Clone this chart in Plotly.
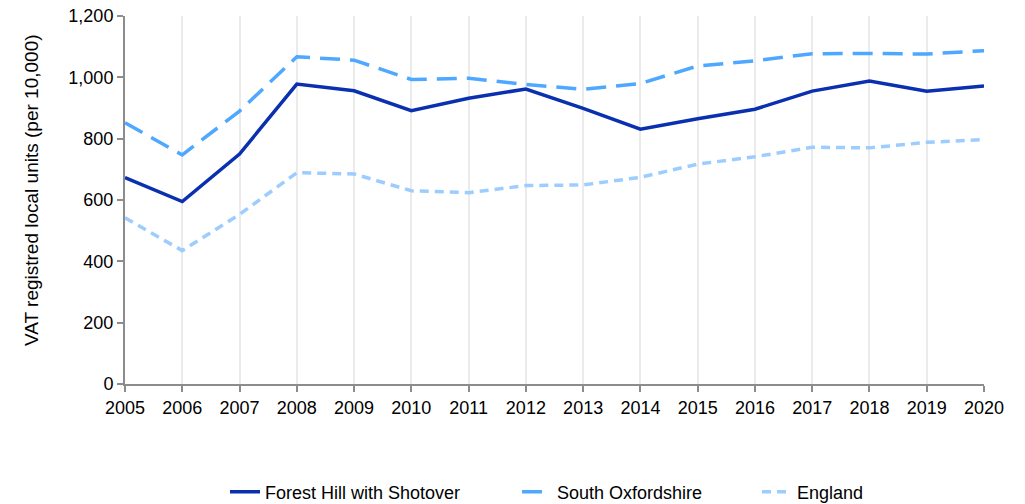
import plotly.graph_objects as go

years = list(range(2005, 2021))
forest_hill = [673, 595, 750, 978, 956, 891, 932, 962, 899, 831, 865, 896, 955, 988, 955, 972]
south_oxon = [852, 747, 890, 1067, 1056, 993, 997, 977, 961, 980, 1037, 1054, 1077, 1078, 1076, 1087]
england = [542, 435, 553, 689, 685, 630, 624, 647, 649, 674, 717, 741, 772, 770, 788, 797]
y_title = "VAT registred local units (per 10,000)"

fig = go.Figure()
fig.add_trace(go.Scatter(x=years, y=forest_hill, mode="lines", name="Forest Hill with Shotover",
                         line=dict(color="#0a30b0", width=3.5), legend="legend"))
fig.add_trace(go.Scatter(x=years, y=south_oxon, mode="lines", name="South Oxfordshire",
                         line=dict(color="#4ea8ff", width=3.5, dash="20px,10px"), legend="legend2"))
fig.add_trace(go.Scatter(x=years, y=england, mode="lines", name="England",
                         line=dict(color="#9dcdff", width=3.5, dash="9px,6px"), legend="legend3"))

W, H = 1025, 504
L, R, T, B = 125, 41, 16, 120
def leg(xpx):
    return dict(orientation="h", xref="container", x=xpx / W, xanchor="left",
                yref="container", y=(H - 492) / H, yanchor="middle",
                font=dict(size=18), bgcolor="rgba(0,0,0,0)")

pw, ph = W - L - R, H - T - B
fig.add_annotation(text=y_title, textangle=-90, showarrow=False,
                   xref="paper", yref="paper",
                   x=(31.5 - L) / pw, y=(H - B - 190.5) / ph,
                   xanchor="center", yanchor="middle",
                   font=dict(size=19, color="#000000"))

fig.update_layout(
    width=W, height=H,
    margin=dict(l=L, r=R, t=T, b=B, autoexpand=False),
    plot_bgcolor="white", paper_bgcolor="white",
    font=dict(family="Liberation Sans, Arial, sans-serif", size=18, color="#000000"),
    showlegend=True,
    legend=leg(225), legend2=leg(517), legend3=leg(757),
    xaxis=dict(range=[2005, 2020], tickmode="array", tickvals=years, ticktext=[str(y) for y in years],
               showgrid=True, gridcolor="#ebebeb", gridwidth=1.5,
               showline=True, linecolor="#8c8c8c", linewidth=2,
               ticks="outside", ticklen=6, tickcolor="#8c8c8c", tickwidth=1.5,
               zeroline=False, ticklabeloverflow="allow", automargin=False),
    yaxis=dict(range=[0, 1200], tickvals=[0, 200, 400, 600, 800, 1000, 1200], tickformat=",",
               showgrid=False, showline=True, linecolor="#8c8c8c", linewidth=2,
               ticks="outside", ticklen=6, tickcolor="#8c8c8c", tickwidth=1.5,
               zeroline=False, ticklabeloverflow="allow", automargin=False),
)

fig.write_html("out.html", config={"displayModeBar": False},
               post_script="document.body.style.margin='0px';")
